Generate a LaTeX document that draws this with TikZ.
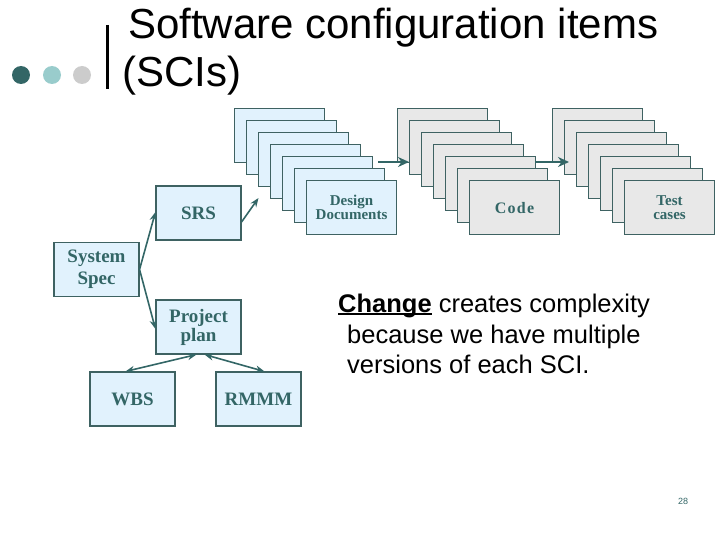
\documentclass[tikz,border=0pt]{standalone}
\usepackage{fontspec}
\setmainfont{Liberation Serif}
\newfontfamily\arialf{Liberation Sans}
\usetikzlibrary{arrows.meta}
\definecolor{teal1}{HTML}{336666}
\definecolor{teal2}{HTML}{99CCCC}
\definecolor{grey1}{HTML}{CCCCCC}
\definecolor{bluefill}{HTML}{E1F2FD}
\definecolor{greyfill}{HTML}{E8E8E8}
\definecolor{boxline}{HTML}{3E6262}
\newcommand\thickul[1]{\setbox0\hbox{#1}\rlap{\rule[-3.2pt]{\wd0}{2.2pt}}\box0\relax}
\tikzset{
  basebox/.style={draw=boxline, line width=1.1pt, minimum width=85pt, minimum height=54pt,
    inner sep=0pt, align=center, text=teal1, font=\fontsize{19}{22}\selectfont\bfseries},
  bluebox/.style={basebox, fill=bluefill},
  stackblue/.style={basebox, fill=bluefill, minimum width=90pt, anchor=north west,
    font=\fontsize{15}{15}\selectfont\bfseries},
  stackgrey/.style={basebox, fill=greyfill, minimum width=90pt, anchor=north west,
    font=\fontsize{15}{15}\selectfont\bfseries},
  conn/.style={draw=teal1, line width=1.6pt, -{Stealth[length=9pt,width=7pt]}},
  dconn/.style={draw=teal1, line width=1.6pt, {Stealth[length=9pt,width=7pt]}-{Stealth[length=9pt,width=7pt]}},
  bigconn/.style={draw=teal1, line width=2.4pt, -{Stealth[length=11pt,width=10pt]}},
  titletext/.style={anchor=base west, inner sep=0pt, font=\arialf\fontsize{42}{48}\selectfont},
  bodytext/.style={anchor=base west, inner sep=0pt, font=\arialf\fontsize{25.5}{31}\selectfont},
}
\begin{document}
\begin{tikzpicture}[x=1pt,y=-1pt]
\useasboundingbox (0,0) rectangle (720,540);
% title decoration
\fill[teal1] (21,75) circle (9);
\fill[teal2] (52,75) circle (9);
\fill[grey1] (82,75) circle (9);
\draw[line width=3pt] (107,25) -- (107,89);
\node[titletext] (t1) at (128,39) {Software configuration items};
\node[titletext] (t2) at (122,87) {(SCIs)};
% stacks
\foreach \i in {0,...,5} {
  \node[stackblue] (d\i) at (234+12*\i,108+12*\i) {};
}
\node[stackblue] (d6) at (306,180) {Design\\[-1pt]Documents};
\foreach \i in {0,...,5} {
  \node[stackgrey] (c\i) at (397+12*\i,108+12*\i) {};
}
\node[stackgrey, font=\fontsize{16}{16}\selectfont\bfseries] (c6) at (469,180) {C\kern1.2pt o\kern1.2pt d\kern1.2pt e};
\foreach \i in {0,...,5} {
  \node[stackgrey] (s\i) at (552+12*\i,108+12*\i) {};
}
\node[stackgrey] (s6) at (624,180) {Test\\[-1pt]cases};
\coordinate (a1s) at (378,162);
\coordinate (a2s) at (535,162);
\draw[bigconn] (a1s) -- (c1.west |- a1s);
\draw[bigconn] (a2s) -- ([xshift=5pt]s1.west |- a2s);
% left graph
\node[bluebox] (srs) at (198.5,213) {SRS};
\node[bluebox] (sys) at (96.5,269.5) {System\\Spec};
\node[bluebox] (pp) at (198.5,327) {Project\\[-3pt]plan};
\node[bluebox] (wbs) at (132.5,399) {WBS};
\node[bluebox] (rmmm) at (258.5,399) {RMMM};
\coordinate (srsend) at (258.5,198);
\draw[conn] ([yshift=-9pt]srs.east) -- (srsend);
\draw[conn] (sys.east) -- ([yshift=1pt]srs.west);
\draw[conn] (sys.east) -- ([yshift=-2pt]pp.west);
\draw[dconn] ([xshift=-2pt]pp.south) -- ([xshift=-7pt]wbs.north);
\draw[dconn] ([xshift=6pt]pp.south) -- ([xshift=6pt]rmmm.north);
% body text
\node[bodytext] (b1) at (338,312) {\thickul{\textbf{Change}} creates complexity};
\node[bodytext] (b2) at (347,343) {because we have multiple};
\node[bodytext] (b3) at (347,373) {versions of each SCI.};
\node[inner sep=0pt, text=teal1, font=\arialf\fontsize{9}{9}\selectfont] (pn) at (683,501) {28};
\end{tikzpicture}
\end{document}
